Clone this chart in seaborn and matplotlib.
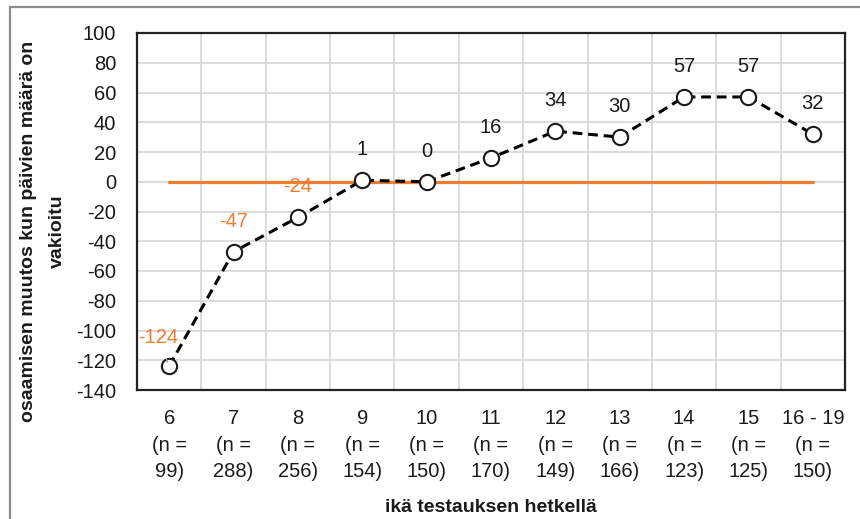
import matplotlib
matplotlib.use("Agg")
import matplotlib.pyplot as plt
import seaborn as sns
import pandas as pd
from matplotlib.lines import Line2D

ages = ["6", "7", "8", "9", "10", "11", "12", "13", "14", "15", "16 - 19"]
counts = [99, 288, 256, 154, 150, 170, 149, 166, 123, 125, 150]
values = [-124, -47, -24, 1, 0, 16, 34, 30, 57, 57, 32]
baseline = [0] * len(ages)
y_ticks = list(range(-140, 101, 20))
y_label = "osaamisen muutos kun päivien määrä on\nvakioitu"
x_label = "ikä testauksen hetkellä"

ORANGE = "#ED7D31"
TXT = "#1a1a1a"
sns.set_theme(style="white")
plt.rcParams["font.family"] = ["Liberation Sans", "DejaVu Sans"]

cats = [f"{a}\n(n =\n{n})" for a, n in zip(ages, counts)]
df = pd.DataFrame({"cat": cats, "value": values, "base": baseline})

fig = plt.figure(figsize=(8.6, 5.19), dpi=100)
ax = fig.add_axes([137/860, 1-390/519, (845-137)/860, (390-33)/519])

sns.pointplot(data=df, x="cat", y="value", ax=ax, color="black",
              linestyles="--", markers="o", errorbar=None,
              markersize=11, markerfacecolor="white", markeredgecolor=TXT,
              markeredgewidth=1.5, linewidth=2.2, zorder=4)
for ln in ax.lines:
    ln.set_dashes((3.2, 1.9))
    ln.set_markerfacecolor("white")
    ln.set_zorder(4)

pos = list(range(len(cats)))
sns.lineplot(x=[pos[0], pos[-1]], y=[baseline[0], baseline[-1]], ax=ax,
             color=ORANGE, linewidth=2.3, zorder=2)

ax.set_ylim(-140, 100)
ax.set_xlim(-0.5, len(cats) - 0.5)
ax.set_yticks(y_ticks)
ax.set_yticklabels([str(t) for t in y_ticks])
ax.set_xticks(pos)
ax.set_xticklabels(cats, linespacing=1.5)
ax.tick_params(axis="y", length=0, pad=15, labelsize=14.5, labelcolor=TXT)
ax.tick_params(axis="x", length=0, pad=14, labelsize=14.5, labelcolor=TXT)
ax.set_xlabel("")
ax.set_ylabel("")

ax.set_xticks([p - 0.5 for p in pos] + [pos[-1] + 0.5], minor=True)
ax.grid(False)
ax.grid(True, axis="y", which="major", color="#D9D9D9", linewidth=1.3, zorder=0)
ax.grid(True, axis="x", which="minor", color="#D9D9D9", linewidth=1.3, zorder=0)
ax.tick_params(which="minor", length=0)
ax.set_axisbelow(True)

for side in ["left", "bottom", "top", "right"]:
    ax.spines[side].set_visible(True)
    ax.spines[side].set_linewidth(1.6)
    ax.spines[side].set_color("#222222")
    ax.spines[side].set_zorder(6)

for i, v in enumerate(values):
    col = ORANGE if v < 0 else TXT
    if i == 0:
        ax.annotate(str(v), xy=(i, v), xytext=(-8, 21), textcoords="offset points",
                    ha="center", va="center", fontsize=14.5, color=col, zorder=5,
                    arrowprops=dict(arrowstyle="-", color="#A6A6A6", lw=1.0,
                                    shrinkA=7, shrinkB=3))
    else:
        ax.annotate(str(v), xy=(i, v), xytext=(0, 22), textcoords="offset points",
                    ha="center", va="center", fontsize=14.5, color=col, zorder=5)

fig.text(43/860, 1-231/519, y_label, rotation=90, ha="center", va="center",
         multialignment="center", fontsize=14, fontweight="bold", color=TXT,
         linespacing=1.85)
fig.text(491/860, 1-508/519, x_label, ha="center", va="center",
         fontsize=14, fontweight="bold", color=TXT)

fig.add_artist(Line2D([10/860, 1.0], [1-7/519, 1-7/519], transform=fig.transFigure,
                      color="#8C8C8C", linewidth=1.6))
fig.add_artist(Line2D([10/860, 10/860], [0, 1-7/519], transform=fig.transFigure,
                      color="#8C8C8C", linewidth=1.6))

fig.savefig("out.png", dpi=100)
